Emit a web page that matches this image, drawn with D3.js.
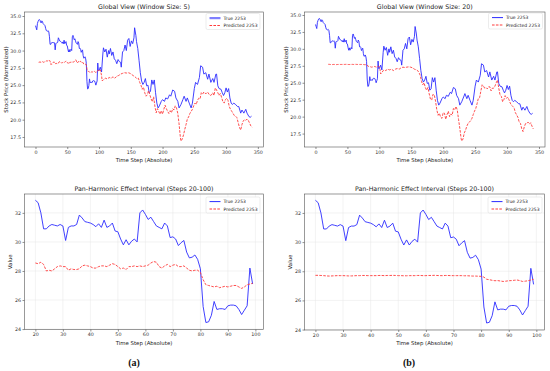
<!DOCTYPE html>
<html>
<head>
<meta charset="utf-8">
<script src="https://cdn.jsdelivr.net/npm/d3@7"></script>
<style>
  html, body { margin: 0; padding: 0; background: #fff; }
  svg { display: block; font-family: "DejaVu Sans", sans-serif; }
</style>
</head>
<body>
<div id="chart"></div>
<script>
// True 2253, steps 0..340
const trueSteps = [
  0,1,2,3,4,5,6,7,8,9,10,11,12,13,14,15,16,17,18,19,
  20,21,22,23,24,25,26,27,28,29,30,31,32,33,34,35,36,37,38,39,
  40,41,42,43,44,45,46,47,48,49,50,51,52,53,54,55,56,57,58,59,
  60,61,62,63,64,65,66,67,68,69,70,71,72,73,74,75,76,77,78,79,
  80,81,82,83,84,85,86,87,88,89,90,91,92,93,94,95,96,97,98,99,
  100,102,104,106,107,109,111,113,115,116,118,120,122,124,126,128,130,132,134,135,
  137,139,141,143,145,147,149,151,153,155,156,158,159,161,163,165,167,169,171,173,
  175,177,179,181,183,185,187,189,191,193,195,198,200,203,205,208,211,213,216,219,
  221,224,226,229,232,234,237,239,242,245,247,250,252,255,258,260,263,265,268,271,
  273,276,279,281,284,285,287,289,292,294,296,298,300,302,304,306,308,310,312,315,
  318,320,323,325,328,331,333,336,338,340
];
const trueValues = [
  33.6,33.3,33.0,33.9,34.2,34.4,34.5,34.4,34.1,34.0,34.3,34.2,33.9,33.8,33.7,33.6,33.2,32.9,32.85,32.8,
  32.87,32.7,32.0,30.9,30.9,31.1,31.2,31.15,31.1,31.2,31.1,30.1,31.0,31.1,31.1,31.2,31.85,31.65,31.4,31.35,
  31.3,31.2,31.05,31.25,31.0,31.5,31.0,31.1,31.3,30.75,30.7,30.2,29.8,30.15,29.8,30.05,30.2,30.0,32.0,32.2,
  31.9,31.55,31.7,31.4,31.1,31.0,30.9,31.3,31.1,30.3,30.35,30.2,29.75,29.95,30.1,29.3,28.9,28.95,29.1,28.8,
  28.15,25.55,24.45,24.5,24.95,25.9,25.35,25.4,25.4,25.35,25.6,25.65,25.65,25.6,25.35,25.0,25.3,25.6,28.2,27.1,
  27.1,27.6,26.9,29.5,30.4,29.8,30.2,29.05,30.0,29.5,30.3,29.3,29.8,28.8,28.6,28.1,28.7,28.4,28.3,27.6,
  29.8,30.0,30.8,30.0,31.5,31.75,30.6,31.4,31.0,31.85,33.3,32.2,31.3,30.3,28.6,26.8,25.6,25.1,25.4,25.95,
  24.9,25.0,23.9,24.1,25.75,25.1,25.75,23.9,22.4,21.7,22.0,22.65,22.9,22.65,23.15,23.0,23.6,23.4,24.3,24.1,
  23.15,22.65,21.7,22.2,22.9,23.4,22.65,23.15,22.4,21.7,22.4,24.5,25.4,25.1,26.1,27.8,27.6,26.6,26.8,25.85,
  26.6,25.4,25.95,25.4,26.6,26.6,24.9,24.5,24.4,23.9,23.5,23.9,24.6,24.0,24.5,23.15,22.4,22.2,22.4,22.2,
  21.9,21.9,20.95,21.4,20.95,21.5,20.95,20.45,20.35,20.5
];

// Predicted 2253, window size 5
const predASteps = [
  5,7,9,11,13,15,17,19,
  20,21,22,23,24,25,26,27,28,29,30,31,32,33,34,35,36,37,38,39,
  40,41,42,43,44,45,46,47,48,49,50,51,52,53,54,55,56,57,58,59,
  60,61,62,63,64,65,66,67,68,69,70,71,72,73,74,75,76,77,78,79,
  80,81,82,83,84,85,86,87,88,89,90,91,92,93,94,95,96,97,98,99,
  100,102,104,105,107,110,113,116,119,122,125,128,131,134,137,140,143,146,149,152,
  155,158,160,162,164,166,168,170,172,174,176,178,180,182,184,186,188,190,192,194,
  196,198,200,202,204,206,208,210,212,214,216,218,220,222,224,226,228,229,231,233,
  235,237,239,241,243,245,247,249,251,253,255,257,259,261,263,265,267,269,271,273,
  275,277,279,281,283,285,287,289,291,293,295,297,299,301,303,305,307,309,311,313,
  315,317,319,321,323,325,327,329,331,333,335,337,339,341
];
const predAValues = [
  28.3,28.35,28.3,28.4,28.3,28.4,28.5,28.5,
  28.55,28.5,28.6,28.45,28.0,28.05,28.0,28.15,28.3,28.35,28.3,28.3,28.05,28.15,28.1,28.1,28.15,28.35,28.4,28.35,
  28.3,28.2,28.2,28.3,28.35,28.35,28.3,28.4,28.5,28.45,28.3,28.15,28.2,28.1,28.3,28.3,28.35,28.3,28.35,28.3,
  28.35,28.4,28.55,28.65,28.6,28.3,28.2,28.35,28.45,28.3,28.4,28.45,28.3,28.3,28.35,28.2,28.05,28.0,28.05,28.05,
  27.9,27.4,27.05,27.0,26.95,26.9,26.95,26.85,26.9,26.95,26.9,26.95,27.0,27.0,26.9,26.8,26.9,27.05,27.1,27.15,
  27.0,27.2,26.4,25.6,25.8,26.0,25.9,26.1,26.0,26.2,26.0,26.3,26.4,26.6,26.7,26.8,26.75,26.8,26.7,26.5,
  26.3,26.1,25.9,26.0,25.4,25.0,24.4,24.7,23.9,23.4,23.6,24.2,23.6,23.0,22.6,23.3,21.9,21.0,21.6,21.2,
  20.8,21.3,20.8,21.5,22.1,21.6,21.2,20.9,21.3,21.0,21.6,21.4,22.0,21.7,20.9,19.4,17.5,16.9,17.2,17.8,
  18.6,19.3,20.1,20.4,20.9,21.2,21.5,22.0,22.4,22.2,22.8,23.1,23.0,23.9,23.7,24.0,23.8,23.8,24.0,23.7,
  23.5,23.6,23.9,23.5,24.6,24.3,23.9,23.5,23.8,23.2,22.6,22.4,22.9,23.1,22.8,21.9,21.5,21.2,20.9,20.6,
  20.5,20.3,19.6,18.9,18.5,19.3,19.8,20.0,19.9,20.1,19.9,19.5,19.1,18.9
];

// Predicted 2253, window size 20
const predBSteps = [
  20,21,22,23,24,25,26,27,28,29,30,31,32,33,34,35,36,37,38,39,
  40,41,42,43,44,45,46,47,48,49,50,51,52,53,54,55,56,57,58,59,
  60,61,62,63,64,65,66,67,68,69,70,71,72,73,74,75,76,77,78,79,
  80,81,82,83,84,85,86,87,88,89,90,91,92,93,94,95,96,97,98,99,
  100,101,102,104,106,108,110,113,116,119,122,125,128,131,134,137,140,143,146,149,
  152,155,158,160,162,164,166,168,170,172,174,176,178,180,182,184,186,188,190,192,
  194,196,198,200,202,204,206,208,210,212,214,216,218,220,222,224,226,228,229,231,
  233,235,237,239,241,243,245,247,249,251,253,255,257,259,261,263,265,267,269,271,
  273,275,277,279,281,283,285,287,289,291,293,295,297,299,301,303,305,307,309,311,
  313,315,317,319,321,323,325,327,329,331,333,335,337,339,341
];
const predBValues = [
  27.72,27.72,27.71,27.7,27.68,27.67,27.68,27.69,27.7,27.7,27.7,27.69,27.68,27.68,27.69,27.7,27.7,27.71,27.71,27.7,
  27.7,27.7,27.7,27.71,27.71,27.7,27.71,27.71,27.72,27.71,27.7,27.7,27.69,27.69,27.7,27.7,27.7,27.71,27.71,27.7,
  27.7,27.71,27.71,27.72,27.71,27.7,27.7,27.71,27.71,27.7,27.7,27.7,27.7,27.7,27.69,27.69,27.68,27.67,27.67,27.66,
  27.65,27.6,27.45,27.42,27.38,27.35,27.36,27.33,27.3,27.32,27.35,27.36,27.38,27.4,27.36,27.3,27.32,27.35,27.4,27.45,
  27.3,27.0,26.3,26.5,26.8,26.9,26.8,27.0,26.9,27.0,26.8,27.0,27.1,27.0,27.2,27.3,27.25,27.3,27.35,27.3,
  27.2,27.0,26.9,26.8,26.5,26.1,25.2,24.7,25.0,24.3,23.9,24.3,23.4,22.6,22.45,23.3,23.2,22.3,21.0,20.2,
  20.5,19.9,19.75,20.6,20.5,19.6,20.3,20.8,20.0,20.4,20.2,21.2,21.0,21.5,21.0,19.6,18.3,16.8,16.4,16.7,
  17.6,18.0,18.6,19.0,19.2,19.4,19.75,20.3,20.8,21.2,21.9,22.7,22.8,23.8,24.7,24.5,24.2,24.3,24.1,24.4,
  24.4,23.8,24.2,24.2,24.5,25.0,25.4,24.2,23.2,23.0,22.2,22.5,23.1,22.7,22.9,22.5,22.0,21.7,21.5,21.3,
  20.6,20.25,19.9,19.2,19.0,18.2,17.8,18.5,19.0,19.0,19.2,18.9,19.1,18.6,18.2
];

const globalXTicks = [0, 50, 100, 150, 200, 250, 300, 350];
const globalYTicks = [17.5, 20.0, 22.5, 25.0, 27.5, 30.0, 32.5, 35.0];
const zoomXTicks = [20, 30, 40, 50, 60, 70, 80, 90, 100];
const zoomYTicks = [24, 26, 28, 30, 32];

const W = 550, H = 371;
const svg = d3.select("#chart").append("svg").attr("width", W).attr("height", H);

const BLUE = "#2b2bff", RED = "#ff3a3a";
const zip = (s, v) => s.map((t, i) => ({ t, v: v[i] }));
const trueData = zip(trueSteps, trueValues);

function drawPanel(cfg) {
  const { id, frame, xDomain, yDomain, xTicks, yTicks, yFmt, title, yLabel, pred, grid, legendX, legendY, thickLegend } = cfg;
  const steps = cfg.steps || [-Infinity, Infinity];
  const x = d3.scaleLinear().domain(xDomain).range([frame.x0, frame.x1]);
  const y = d3.scaleLinear().domain(yDomain).range([frame.y1, frame.y0]);
  const g = svg.append("g");

  g.append("clipPath").attr("id", "clip-" + id)
    .append("rect").attr("x", frame.x0).attr("y", frame.y0)
    .attr("width", frame.x1 - frame.x0).attr("height", frame.y1 - frame.y0);

  if (grid) {
    g.append("g").selectAll("line").data(xTicks).join("line")
      .attr("x1", d => x(d)).attr("x2", d => x(d)).attr("y1", frame.y0).attr("y2", frame.y1)
      .attr("stroke", "#e6e6e6").attr("stroke-width", 0.5);
    g.append("g").selectAll("line").data(yTicks).join("line")
      .attr("y1", d => y(d)).attr("y2", d => y(d)).attr("x1", frame.x0).attr("x2", frame.x1)
      .attr("stroke", "#e6e6e6").attr("stroke-width", 0.5);
  }

  // axes
  const ax = g.append("g").attr("transform", `translate(0,${frame.y1})`)
    .call(d3.axisBottom(x).tickValues(xTicks).tickSize(2).tickPadding(1.5).tickSizeOuter(0));
  const ay = g.append("g").attr("transform", `translate(${frame.x0},0)`)
    .call(d3.axisLeft(y).tickValues(yTicks).tickFormat(yFmt).tickSize(2).tickPadding(1.5).tickSizeOuter(0));
  [ax, ay].forEach(a => {
    a.select(".domain").remove();
    a.selectAll("line").attr("stroke", "#444").attr("stroke-width", 0.6);
    a.selectAll("text").attr("fill", "#333").style("font-size", "4.8px").style("font-family", "DejaVu Sans");
  });

  const line = d3.line().x(d => x(d.t)).y(d => y(d.v));
  const plot = g.append("g").attr("clip-path", `url(#clip-${id})`);
  const inRange = d => d.t >= steps[0] && d.t <= steps[1];
  plot.append("path").datum(trueData.filter(inRange)).attr("d", line)
    .attr("fill", "none").style("stroke", BLUE).attr("stroke-width", 0.9).attr("stroke-linejoin", "round");
  plot.append("path").datum(pred.filter(inRange)).attr("d", line)
    .attr("fill", "none").style("stroke", RED).attr("stroke-width", 0.9).attr("stroke-dasharray", "2.6,1.3");

  g.append("rect").attr("x", frame.x0).attr("y", frame.y0)
    .attr("width", frame.x1 - frame.x0).attr("height", frame.y1 - frame.y0)
    .attr("fill", "none").attr("stroke", "#555").attr("stroke-width", 0.6);

  const cx = (frame.x0 + frame.x1) / 2;
  g.append("text").attr("x", cx).attr("y", frame.y0 - 3.2).attr("text-anchor", "middle")
    .attr("fill", "#222").style("font-size", "6.3px").text(title);
  g.append("text").attr("x", cx).attr("y", frame.y1 + 15).attr("text-anchor", "middle")
    .attr("fill", "#222").style("font-size", "5.4px").text("Time Step (Absolute)");
  g.append("text")
    .attr("transform", `translate(${cfg.yLabelX},${(frame.y0 + frame.y1) / 2}) rotate(-90)`)
    .attr("text-anchor", "middle").attr("dy", "0.35em")
    .attr("fill", "#222").style("font-size", "5.4px").text(yLabel);

  // legend
  const lg = g.append("g").attr("transform", `translate(${legendX},${legendY})`);
  lg.append("rect").attr("width", 54).attr("height", 16).attr("rx", 1.5)
    .attr("fill", "#fff").attr("fill-opacity", 0.85).attr("stroke", "#d8d8d8").attr("stroke-width", 0.5);
  const items = [
    { label: "True 2253", color: BLUE, dash: null },
    { label: "Predicted 2253", color: RED, dash: "2.6,1.3" }
  ];
  items.forEach((it, i) => {
    const yy = 4.6 + i * 7.4;
    lg.append("line").attr("x1", 3.5).attr("x2", 14.5).attr("y1", yy).attr("y2", yy)
      .style("stroke", it.color)
      .style("stroke-width", thickLegend && i === 0 ? 2.2 : 1)
      .style("stroke-opacity", thickLegend && i === 0 ? 0.6 : 1)
      .attr("stroke-dasharray", it.dash);
    lg.append("text").attr("x", 17.5).attr("y", yy).attr("dy", "0.35em")
      .attr("fill", "#222").style("font-size", "4.5px").text(it.label);
  });
}

const f1 = d3.format(".1f");
drawPanel({
  id: "a1", frame: { x0: 24.5, x1: 263.5, y0: 12, y1: 147 },
  xDomain: [-17.3, 358.9], yDomain: [16.05, 35.58], xTicks: globalXTicks, yTicks: globalYTicks, yFmt: f1,
  title: "Global View (Window Size: 5)", yLabel: "Stock Price (Normalized)", yLabelX: 6.5,
  pred: zip(predASteps, predAValues), grid: false, legendX: 206, legendY: 13.5, thickLegend: true
});
drawPanel({
  id: "b1", frame: { x0: 304.5, x1: 545, y0: 12, y1: 147 },
  xDomain: [-17.2, 359.4], yDomain: [15.52, 35.44], xTicks: globalXTicks, yTicks: globalYTicks, yFmt: f1,
  title: "Global View (Window Size: 20)", yLabel: "Stock Price (Normalized)", yLabelX: 286,
  pred: zip(predBSteps, predBValues), grid: false, legendX: 488.5, legendY: 13
});
drawPanel({
  id: "a2", frame: { x0: 24.5, x1: 263.5, y0: 194, y1: 329.5 }, steps: [20, 99],
  xDomain: [16.05, 102.95], yDomain: [23.97, 33.3], xTicks: zoomXTicks, yTicks: zoomYTicks, yFmt: d3.format("d"),
  title: "Pan-Harmonic Effect Interval (Steps 20-100)", yLabel: "Value", yLabelX: 10,
  pred: zip(predASteps, predAValues), grid: true, legendX: 206, legendY: 197
});
drawPanel({
  id: "b2", frame: { x0: 304.5, x1: 544.5, y0: 194, y1: 330 }, steps: [20, 99],
  xDomain: [16.05, 102.95], yDomain: [23.97, 33.3], xTicks: zoomXTicks, yTicks: zoomYTicks, yFmt: d3.format("d"),
  title: "Pan-Harmonic Effect Interval (Steps 20-100)", yLabel: "Value", yLabelX: 290,
  pred: zip(predBSteps, predBValues), grid: true, legendX: 488, legendY: 197
});

// sub-figure captions
[["(a)", 134], ["(b)", 409]].forEach(([t, cx]) => {
  svg.append("text").attr("x", cx).attr("y", 366).attr("text-anchor", "middle")
    .style("font-family", "Liberation Serif, serif").style("font-weight", "bold")
    .style("font-size", "10px").attr("fill", "#111").text(t);
});
</script>
</body>
</html>
